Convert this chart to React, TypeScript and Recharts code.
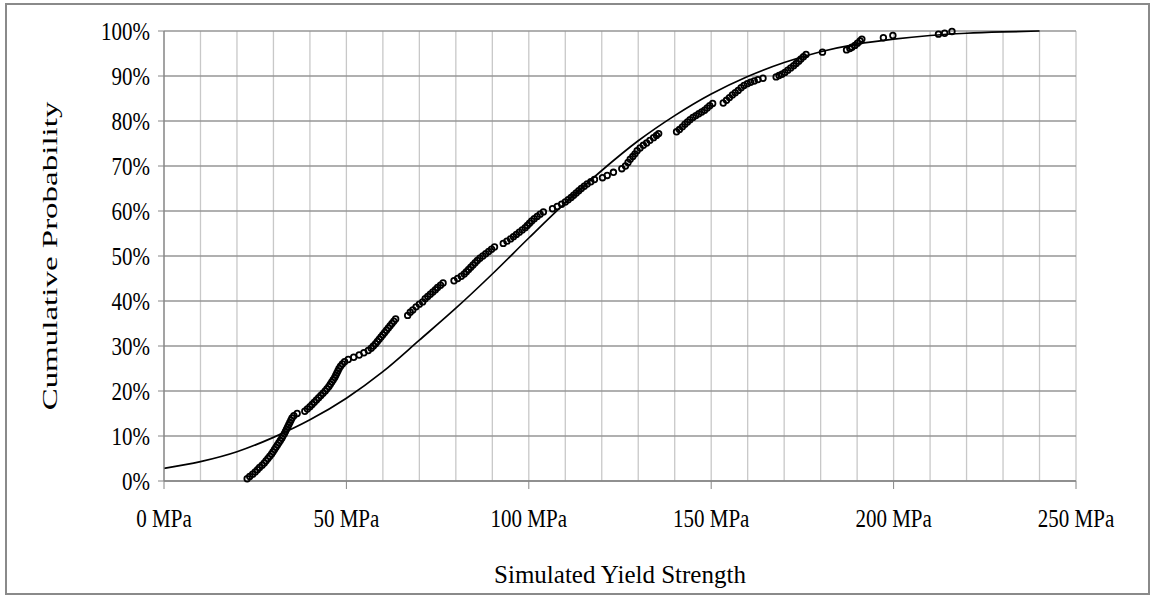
import { ComposedChart, Scatter, Line, XAxis, YAxis, CartesianGrid, Label } from 'recharts';

const FONT = '"Liberation Serif", "Times New Roman", serif';

// simulated sample: yield strength (MPa) and its empirical cumulative probability (%)
const sampleStrength = [
  22.8, 23.5, 24.3, 25.0, 25.6, 26.2, 26.9, 27.5, 28.0, 28.5, 29.0, 29.5, 29.9, 30.3, 30.7,
  31.1, 31.5, 31.9, 32.3, 32.6, 33.0, 33.3, 33.6, 33.9, 34.2, 34.5, 34.8, 35.1, 35.6, 36.5,
  38.6, 39.3, 40.0, 40.6, 41.2, 41.8, 42.4, 43.0, 43.6, 44.2, 44.7, 45.2, 45.6, 46.0, 46.4,
  46.8, 47.1, 47.4, 47.7, 48.0, 48.4, 48.9, 49.5,
  50.5, 52.0, 53.5, 54.8, 56.0, 56.8, 57.4, 58.0, 58.5, 59.0, 59.5, 60.0, 60.5, 61.0, 61.5,
  62.0, 62.5, 63.0, 63.5,
  66.8, 67.5, 68.2, 69.1, 70.0, 70.9, 71.6, 72.3, 73.0, 73.7, 74.4, 75.0, 75.8, 76.5,
  79.5, 80.5, 81.5, 82.3, 82.9, 83.5, 84.1, 84.7, 85.3, 85.9, 86.6, 87.4, 88.2, 89.0, 89.8, 90.6,
  93.0, 94.0, 95.0, 95.8, 96.6, 97.4, 98.2, 99.0, 99.6, 100.2, 100.8, 101.5, 102.3, 103.1, 104.0,
  106.5, 107.8, 109.0, 110.0, 110.8, 111.6, 112.3, 113.0, 113.7, 114.4, 115.2, 116.0, 117.0, 118.0,
  120.2, 121.5, 123.2, 125.5, 126.5, 127.2, 127.8, 128.5, 129.1, 129.7, 130.5, 131.4, 132.3,
  133.2, 134.2, 135.0, 135.6,
  140.5, 141.3, 142.1, 142.8, 143.5, 144.2, 145.0, 145.8, 146.6, 147.4, 148.2, 148.9, 149.6, 150.4,
  153.3, 154.2, 155.0, 155.8, 156.6, 157.4, 158.2, 159.0, 159.9, 160.8, 161.8, 162.8, 164.2,
  167.8, 168.6, 169.4, 170.2, 171.0, 171.8, 172.6, 173.3, 174.0, 174.6, 175.3, 176.0,
  180.5, 187.1, 188.0, 188.6, 189.4, 190.1, 190.8, 191.3, 197.2, 199.8, 212.3, 214.0, 216.0,
];
const sampleProbability = [
  0.5, 1.0, 1.5, 2.0, 2.5, 3.0, 3.5, 4.0, 4.5, 5.0, 5.5, 6.0, 6.5, 7.0, 7.5,
  8.0, 8.5, 9.0, 9.5, 10.0, 10.5, 11.0, 11.5, 12.0, 12.5, 13.0, 13.5, 14.0, 14.5, 15.0,
  15.5, 16.0, 16.5, 17.0, 17.5, 18.0, 18.5, 19.0, 19.5, 20.0, 20.5, 21.0, 21.5, 22.0, 22.5,
  23.0, 23.5, 24.0, 24.5, 25.0, 25.5, 26.0, 26.5,
  27.0, 27.5, 28.0, 28.5, 29.0, 29.5, 30.0, 30.5, 31.0, 31.5, 32.0, 32.5, 33.0, 33.5, 34.0,
  34.5, 35.0, 35.5, 36.0,
  36.8, 37.5, 38.0, 38.7, 39.3, 39.8, 40.5, 41.0, 41.5, 42.0, 42.5, 43.0, 43.5, 44.0,
  44.5, 45.0, 45.5, 46.0, 46.5, 47.0, 47.5, 48.0, 48.5, 49.0, 49.5, 50.0, 50.5, 51.0, 51.5, 52.0,
  52.8, 53.3, 53.8, 54.3, 54.8, 55.3, 55.8, 56.3, 56.8, 57.3, 57.8, 58.3, 58.8, 59.3, 59.8,
  60.5, 61.0, 61.5, 62.0, 62.5, 63.0, 63.5, 64.0, 64.5, 65.0, 65.5, 66.0, 66.5, 67.0,
  67.4, 67.9, 68.6, 69.4, 70.0, 70.8, 71.5, 72.1, 72.7, 73.4, 74.0, 74.6, 75.1,
  75.7, 76.3, 76.8, 77.2,
  77.6, 78.1, 78.7, 79.3, 79.8, 80.3, 80.8, 81.2, 81.6, 82.0, 82.4, 82.9, 83.4, 83.9,
  84.0, 84.6, 85.2, 85.8, 86.3, 86.8, 87.4, 87.9, 88.3, 88.6, 88.9, 89.2, 89.5,
  89.8, 90.1, 90.4, 90.8, 91.3, 91.8, 92.3, 92.8, 93.3, 93.8, 94.3, 94.8,
  95.3, 95.8, 96.1, 96.4, 96.8, 97.3, 97.8, 98.2, 98.5, 99.0, 99.3, 99.5, 99.9,
];

// fitted cumulative distribution curve
const fitStrength = [
  0, 10, 20, 30, 40, 50, 60, 70, 80, 90, 100, 110, 120,
  130, 140, 150, 160, 170, 180, 190, 200, 210, 220, 230, 240,
];
const fitProbability = [
  2.8, 4.3, 6.5, 9.7, 13.6, 18.4, 24.3, 31.3, 38.4, 46.0, 54.0, 61.8, 69.0,
  75.6, 81.2, 86.0, 89.9, 93.0, 95.4, 97.1, 98.2, 99.0, 99.5, 99.8, 100,
];

const strengthTicks = [
  0, 10, 20, 30, 40, 50, 60, 70, 80, 90, 100, 110, 120, 130,
  140, 150, 160, 170, 180, 190, 200, 210, 220, 230, 240, 250,
];
const probabilityTicks = [0, 10, 20, 30, 40, 50, 60, 70, 80, 90, 100];

const sampleData = sampleStrength.map((x, i) => ({ x, p: sampleProbability[i] }));
const fitData = fitStrength.map((x, i) => ({ x, p: fitProbability[i] }));

const X_TICK_SIZE = 8;
const X_TICK_MARGIN = 20;
const TEXT_STRETCH = 1.2; // the original text is drawn a little taller than wide

function StrengthTick(props: any) {
  const { x, y, payload } = props;
  if (payload.value % 50 !== 0) return <g />;
  return (
    <g>
      <line
        x1={x}
        x2={x}
        y1={y - X_TICK_SIZE - X_TICK_MARGIN}
        y2={y - X_TICK_MARGIN}
        stroke="#868686"
      />
      <text
        transform={`translate(${x},${y}) scale(1,${TEXT_STRETCH})`}
        dy="0.71em"
        textAnchor="middle"
        fontFamily={FONT}
        fontSize={21}
        fill="#000"
      >
        {payload.value} MPa
      </text>
    </g>
  );
}

function ProbabilityTick(props: any) {
  const { x, y, payload } = props;
  return (
    <text
      transform={`translate(${x},${y}) scale(1,${TEXT_STRETCH})`}
      dy="0.36em"
      textAnchor="end"
      fontFamily={FONT}
      fontSize={21}
      fill="#000"
    >
      {payload.value}%
    </text>
  );
}

function YTitle(props: any) {
  const { viewBox } = props;
  const cx = viewBox.x - 15;
  const cy = viewBox.y + viewBox.height / 2;
  return (
    <text
      transform={`translate(${cx},${cy}) rotate(-90) scale(1.5,1)`}
      textAnchor="middle"
      dy="0.36em"
      fontFamily={FONT}
      fontSize={22}
      fill="#000"
    >
      Cumulative Probability
    </text>
  );
}

function XTitle(props: any) {
  const { viewBox } = props;
  const cx = viewBox.x + viewBox.width / 2;
  return (
    <text
      x={cx}
      y={viewBox.y + 93}
      dy="0.36em"
      textAnchor="middle"
      fontFamily={FONT}
      fontSize={25}
      fill="#000"
    >
      Simulated Yield Strength
    </text>
  );
}

function Ring(props: any) {
  const { cx, cy } = props;
  return <circle cx={cx} cy={cy} r={2.8} fill="none" stroke="#000" strokeWidth={1.8} />;
}

export default function App() {
  return (
    <div style={{ position: 'absolute', left: 0, top: 0, width: 1152, height: 597, background: '#fff' }}>
      <div
        style={{
          position: 'absolute',
          left: 5,
          top: 3,
          width: 1145,
          height: 592,
          border: '2px solid #8a8a8a',
          boxSizing: 'border-box',
        }}
      />
      <div style={{ position: 'absolute', left: 0, top: 0 }}>
        <ComposedChart
          width={1152}
          height={597}
          margin={{ top: 31, right: 76, bottom: 56, left: 64 }}
        >
          <CartesianGrid horizontal={false} stroke="#c8c8c8" strokeWidth={1.3} />
          <CartesianGrid vertical={false} stroke="#969696" strokeWidth={1.3} />
          <XAxis
            dataKey="x"
            type="number"
            domain={[0, 250]}
            ticks={strengthTicks}
            interval={0}
            height={60}
            tickSize={X_TICK_SIZE}
            tickMargin={X_TICK_MARGIN}
            tickLine={false}
            tick={<StrengthTick />}
            axisLine={{ stroke: '#868686', strokeWidth: 1.3 }}
          >
            <Label content={<XTitle />} />
          </XAxis>
          <YAxis
            dataKey="p"
            type="number"
            domain={[0, 100]}
            ticks={probabilityTicks}
            interval={0}
            width={100}
            tickSize={6}
            tickMargin={8}
            tick={<ProbabilityTick />}
            tickLine={{ stroke: '#868686' }}
            axisLine={{ stroke: '#868686', strokeWidth: 1.3 }}
          >
            <Label content={<YTitle />} />
          </YAxis>
          <Line
            data={fitData}
            dataKey="p"
            type="monotone"
            stroke="#000"
            strokeWidth={1.7}
            dot={false}
            isAnimationActive={false}
          />
          <Scatter data={sampleData} dataKey="p" shape={<Ring />} isAnimationActive={false} />
        </ComposedChart>
      </div>
    </div>
  );
}
